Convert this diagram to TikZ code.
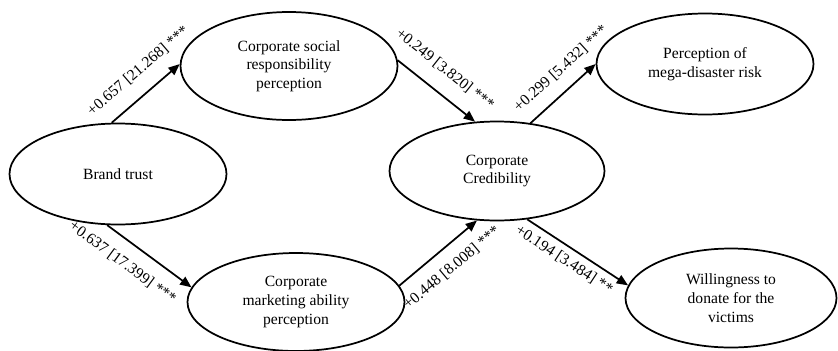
\documentclass[tikz,border=0pt]{standalone}
\usepackage{fontspec}
\setmainfont{Liberation Serif}
\usetikzlibrary{shapes.geometric,arrows.meta}
\begin{document}
\begin{tikzpicture}[x=0.75pt,y=-0.75pt,
  construct/.style={ellipse, draw, line width=1.3pt, inner sep=0pt, align=center,
    font=\fontsize{11.7}{14}\selectfont},
  conn/.style={line width=1.3pt, -{Triangle[length=8.5pt,width=7pt]}},
  coef/.style={sloped, inner sep=0pt, font=\fontsize{11.7}{14}\selectfont}
]
\useasboundingbox (0,0) rectangle (838,350);
\node[construct, minimum width=162.75pt, minimum height=75.75pt] (brand) at (118,174) {Brand trust};
\node[construct, minimum width=162.75pt, minimum height=81pt] (csr) at (289,66) {Corporate social\\responsibility\\perception};
\node[construct, minimum width=161.25pt, minimum height=74.25pt] (cred) at (497,171) {Corporate\\Credibility};
\node[construct, minimum width=162.75pt, minimum height=75.75pt] (risk) at (705,64) {Perception of\\mega-disaster risk};
\node[construct, minimum width=162.75pt, minimum height=73.5pt] (mkt) at (296,302) {Corporate\\marketing ability\\perception};
\node[construct, minimum width=158.25pt, minimum height=74.25pt] (will) at (731,298) {Willingness to\\donate for the\\victims};

\draw[conn] (brand.97) -- (csr.179) node[coef, pos=0.6, above=11pt] {+0.657 [21.268] ***};
\draw[conn] (csr.3) -- (cred.114) node[coef, pos=0.43, above=11.3pt] {+0.249 [3.820] ***};
\draw[conn] (cred.55) -- (risk.180) node[coef, pos=0.67, above=9.3pt] {+0.299 [5.432] ***};
\draw[conn] (brand.258) -- (mkt.172) node[coef, pos=0.33, below=10.2pt] {+0.637 [17.399] ***};
\draw[conn] (mkt.9) -- (cred.248) node[coef, pos=0.51, below=9.6pt] {+0.448 [8.008] ***};
\draw[conn] (cred.302) -- (will.173) node[coef, pos=0.44, below=4.7pt] {+0.194 [3.484] **};
\end{tikzpicture}
\end{document}
